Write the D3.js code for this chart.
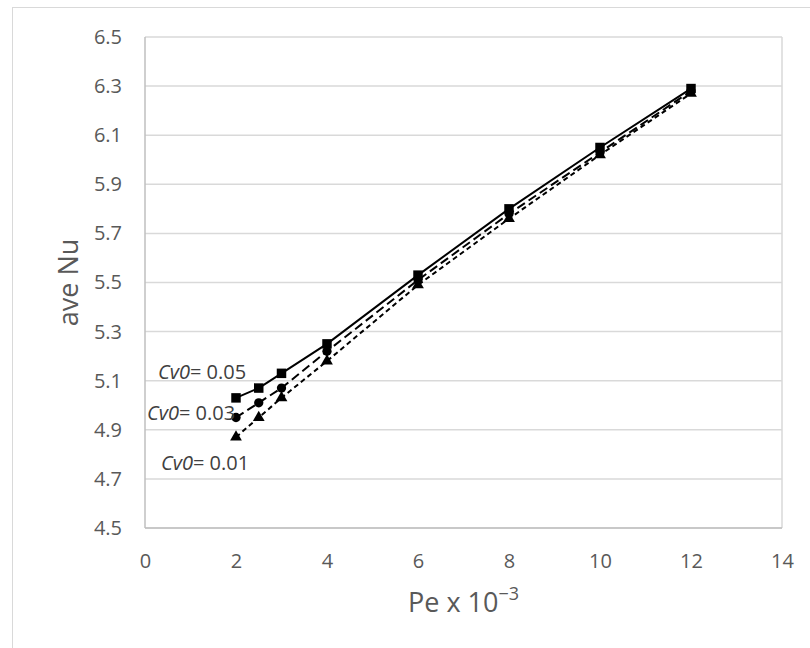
<!DOCTYPE html>
<html>
<head>
<meta charset="utf-8">
<script src="https://cdn.jsdelivr.net/npm/d3@7"></script>
<style>
  html, body { margin: 0; padding: 0; background: #fff; }
  svg { display: block; font-family: "Open Sans", sans-serif; }
</style>
</head>
<body>
<svg id="chart" width="810" height="648"></svg>
<script>
// ---- data ----
const peValues = [2, 2.5, 3, 4, 6, 8, 10, 12];
const nuCv005 = [5.03, 5.07, 5.13, 5.25, 5.53, 5.80, 6.05, 6.29];
const nuCv003 = [4.95, 5.01, 5.07, 5.22, 5.51, 5.78, 6.03, 6.28];
const nuCv001 = [4.87, 4.95, 5.03, 5.18, 5.49, 5.76, 6.02, 6.27];
const seriesNames = ["0.05", "0.03", "0.01"];
const xTicks = [0, 2, 4, 6, 8, 10, 12, 14];
const yTicks = [4.5, 4.7, 4.9, 5.1, 5.3, 5.5, 5.7, 5.9, 6.1, 6.3, 6.5];

const svg = d3.select("#chart");
const L = 145, R = 782, T = 37, B = 528;
const x = d3.scaleLinear().domain([0, 14]).range([L, R]);
const y = d3.scaleLinear().domain([4.5, 6.5]).range([B, T]);

// outer chart border
svg.append("rect").attr("x", 12.5).attr("y", 7.5).attr("width", 820).attr("height", 660)
  .attr("fill", "none").attr("stroke", "#d9d9d9").attr("stroke-width", 1);

// gridlines
svg.append("g").selectAll("line").data(yTicks).join("line")
  .attr("x1", L).attr("x2", R)
  .attr("y1", d => y(d)).attr("y2", d => y(d))
  .attr("stroke", "#d9d9d9").attr("stroke-width", 1.5);

// plot border
svg.append("line").attr("x1", L).attr("x2", L).attr("y1", T).attr("y2", B)
  .attr("stroke", "#bfbfbf").attr("stroke-width", 1.5);
svg.append("line").attr("x1", R).attr("x2", R).attr("y1", T).attr("y2", B)
  .attr("stroke", "#d9d9d9").attr("stroke-width", 1.5);
svg.append("line").attr("x1", L).attr("x2", R).attr("y1", B).attr("y2", B)
  .attr("stroke", "#bfbfbf").attr("stroke-width", 1.5);

// axes (labels only)
const yAxis = d3.axisLeft(y).tickValues(yTicks).tickFormat(d3.format(".1f")).tickSize(0).tickPadding(23);
const gy = svg.append("g").attr("transform", `translate(${L},0)`).call(yAxis);
gy.select(".domain").remove();
gy.selectAll("text").attr("font-size", 20).attr("fill", "#595959").attr("font-family", "Open Sans");

const xAxis = d3.axisBottom(x).tickValues(xTicks).tickFormat(d3.format("d")).tickSize(0).tickPadding(26);
const gx = svg.append("g").attr("transform", `translate(0,${B})`).call(xAxis);
gx.select(".domain").remove();
gx.selectAll("text").attr("font-size", 20).attr("fill", "#595959").attr("font-family", "Open Sans");

// axis titles
svg.append("text").attr("transform", `translate(78,${(T + B) / 2}) rotate(-90)`)
  .attr("text-anchor", "middle").attr("font-size", 27).attr("fill", "#595959")
  .text("ave Nu");
const xt = svg.append("text").attr("x", (L + R) / 2).attr("y", 612)
  .attr("text-anchor", "middle").attr("font-size", 27).attr("fill", "#595959");
xt.append("tspan").text("Pe x 10");
xt.append("tspan").attr("dy", -12).attr("font-size", 18).text("\u22123");

// series
const series = [
  { name: seriesNames[2], vals: nuCv001, dash: "5,3.5", marker: "tri" },
  { name: seriesNames[1], vals: nuCv003, dash: "9,4.5", marker: "circ" },
  { name: seriesNames[0], vals: nuCv005, dash: null, marker: "sq" }
];
const line = d3.line().x(d => x(d[0])).y(d => y(d[1]));

series.forEach(s => {
  const pts = peValues.map((p, i) => [p, s.vals[i]]);
  svg.append("path").datum(pts).attr("d", line)
    .attr("fill", "none").attr("stroke", "#000").attr("stroke-width", 2)
    .attr("stroke-dasharray", s.dash);
});
series.forEach(s => {
  const pts = peValues.map((p, i) => [p, s.vals[i]]);
  const g = svg.append("g");
  let sym;
  if (s.marker === "sq") sym = d3.symbol().type(d3.symbolSquare).size(90);
  else if (s.marker === "circ") sym = d3.symbol().type(d3.symbolCircle).size(68);
  else sym = d3.symbol().type(d3.symbolTriangle).size(60);
  g.selectAll("path").data(pts).join("path")
    .attr("d", sym)
    .attr("transform", d => `translate(${x(d[0])},${y(d[1])})`)
    .attr("fill", "#000");
});

// series annotations
const ann = [
  { name: seriesNames[0], x: 158, y: 379 },
  { name: seriesNames[1], x: 147, y: 420 },
  { name: seriesNames[2], x: 161, y: 470 }
];
ann.forEach(a => {
  const t = svg.append("text").attr("x", a.x).attr("y", a.y)
    .attr("font-size", 20).attr("fill", "#404040");
  t.append("tspan").attr("font-style", "italic").text("Cv0");
  t.append("tspan").text("= " + a.name);
});
</script>
</body>
</html>
